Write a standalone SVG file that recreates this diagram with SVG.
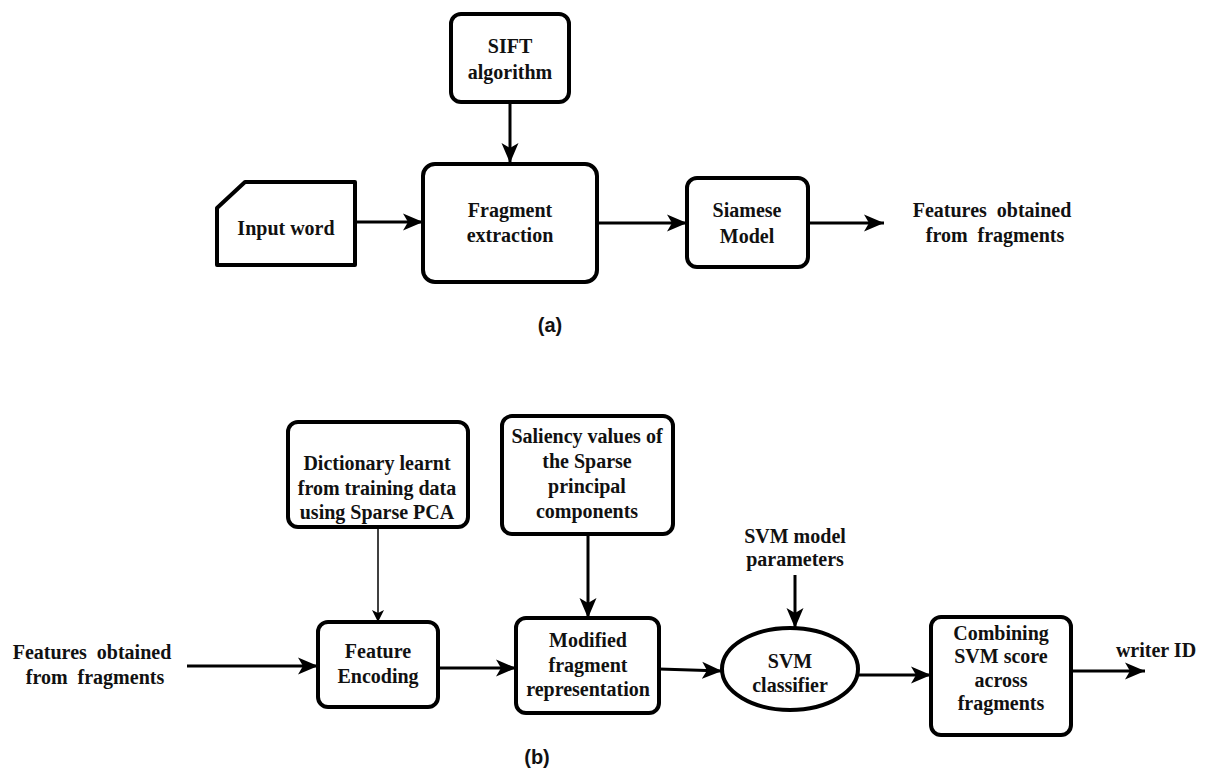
<svg xmlns="http://www.w3.org/2000/svg" width="1212" height="771" viewBox="0 0 1212 771">
<style>
.box{fill:#fff;stroke:#000;stroke-width:4;stroke-linejoin:round}
.t{font-family:"Liberation Serif","Times New Roman",serif;font-weight:bold;font-size:20px;fill:#111;text-anchor:middle}
.lab{font-family:"Liberation Sans",Arial,sans-serif;font-weight:bold;font-size:20px;fill:#111;text-anchor:middle}
.c{fill:none;stroke:#000;stroke-width:3}
.thin{fill:none;stroke:#000;stroke-width:1.5}
</style>
<defs>
<marker id="ah" markerUnits="userSpaceOnUse" markerWidth="22" markerHeight="20" refX="20" refY="9" orient="auto">
<path d="M0,0.5 L20,9 L0,17.5 L5,9 z" fill="#000"/>
</marker>
<marker id="ahs" markerUnits="userSpaceOnUse" markerWidth="14" markerHeight="14" refX="12" refY="6.5" orient="auto">
<path d="M0,0.5 L12,6.5 L0,12.5 L3,6.5 z" fill="#000"/>
</marker>
</defs>
<rect width="1212" height="771" fill="#fff"/>

<g id="connectors">
<path class="c" d="M510,102 L510,163" marker-end="url(#ah)"/>
<path class="c" d="M355,222 L423,222" marker-end="url(#ah)"/>
<path class="c" d="M597,223 L687,223" marker-end="url(#ah)"/>
<path class="c" d="M808,223 L884,223" marker-end="url(#ah)"/>
<path class="c" d="M187,666 L318,666" marker-end="url(#ah)"/>
<path class="thin" d="M378,527 L378,622" marker-end="url(#ahs)"/>
<path class="c" d="M438,668 L516,668" marker-end="url(#ah)"/>
<path class="c" d="M588,534 L588,618" marker-end="url(#ah)"/>
<path class="c" d="M795,575 L795,628" marker-end="url(#ah)"/>
<path class="c" d="M659,669 L722,671" marker-end="url(#ah)"/>
<path class="c" d="M858,675 L931,675" marker-end="url(#ah)"/>
<path class="c" d="M1071,671 L1145,671" marker-end="url(#ah)"/>
</g>

<g id="sift">
<rect class="box" x="451" y="14" width="118" height="88" rx="10"/>
<text class="t" x="510" y="53">SIFT</text>
<text class="t" x="510" y="79">algorithm</text>
</g>
<g id="input-word">
<path class="box" d="M245,182 L355,182 L355,265 L217,265 L217,208 Z"/>
<text class="t" x="286" y="235">Input word</text>
</g>
<g id="fragment-extraction">
<rect class="box" x="423" y="164" width="174" height="118" rx="12"/>
<text class="t" x="510" y="217">Fragment</text>
<text class="t" x="510" y="242">extraction</text>
</g>
<g id="siamese">
<rect class="box" x="687" y="178" width="121" height="89" rx="10"/>
<text class="t" x="747" y="217">Siamese</text>
<text class="t" x="747" y="243">Model</text>
</g>
<g id="features-out-a">
<text class="t" x="992" y="217" xml:space="preserve">Features  obtained</text>
<text class="t" x="995" y="242" xml:space="preserve">from  fragments</text>
</g>
<g id="label-a">
<text class="lab" x="550" y="332">(a)</text>
</g>

<g id="features-in-b">
<text class="t" x="92" y="659" xml:space="preserve">Features  obtained</text>
<text class="t" x="95" y="684" xml:space="preserve">from  fragments</text>
</g>
<g id="dictionary">
<rect class="box" x="288" y="422" width="180" height="105" rx="10"/>
<text class="t" x="377" y="470">Dictionary learnt</text>
<text class="t" x="377" y="495">from training data</text>
<text class="t" x="377" y="519">using Sparse PCA</text>
</g>
<g id="feature-encoding">
<rect class="box" x="318" y="622" width="120" height="85" rx="10"/>
<text class="t" x="378" y="658">Feature</text>
<text class="t" x="378" y="683">Encoding</text>
</g>
<g id="saliency">
<rect class="box" x="502" y="416" width="171" height="118" rx="10"/>
<text class="t" x="587" y="443">Saliency values of</text>
<text class="t" x="587" y="468">the Sparse</text>
<text class="t" x="587" y="493">principal</text>
<text class="t" x="587" y="518">components</text>
</g>
<g id="modified">
<rect class="box" x="516" y="618" width="143" height="95" rx="10"/>
<text class="t" x="588" y="647">Modified</text>
<text class="t" x="588" y="672">fragment</text>
<text class="t" x="588" y="696">representation</text>
</g>
<g id="svm-params">
<text class="t" x="795" y="543">SVM model</text>
<text class="t" x="795" y="566">parameters</text>
</g>
<g id="svm-classifier">
<ellipse class="box" cx="790" cy="669" rx="68" ry="41"/>
<text class="t" x="790" y="668">SVM</text>
<text class="t" x="790" y="692">classifier</text>
</g>
<g id="combining">
<rect class="box" x="931" y="617" width="140" height="118" rx="10"/>
<text class="t" x="1001" y="640">Combining</text>
<text class="t" x="1001" y="663">SVM score</text>
<text class="t" x="1001" y="687">across</text>
<text class="t" x="1001" y="710">fragments</text>
</g>
<g id="writer-id">
<text class="t" x="1156" y="657">writer ID</text>
</g>
<g id="label-b">
<text class="lab" x="537" y="764">(b)</text>
</g>
</svg>
